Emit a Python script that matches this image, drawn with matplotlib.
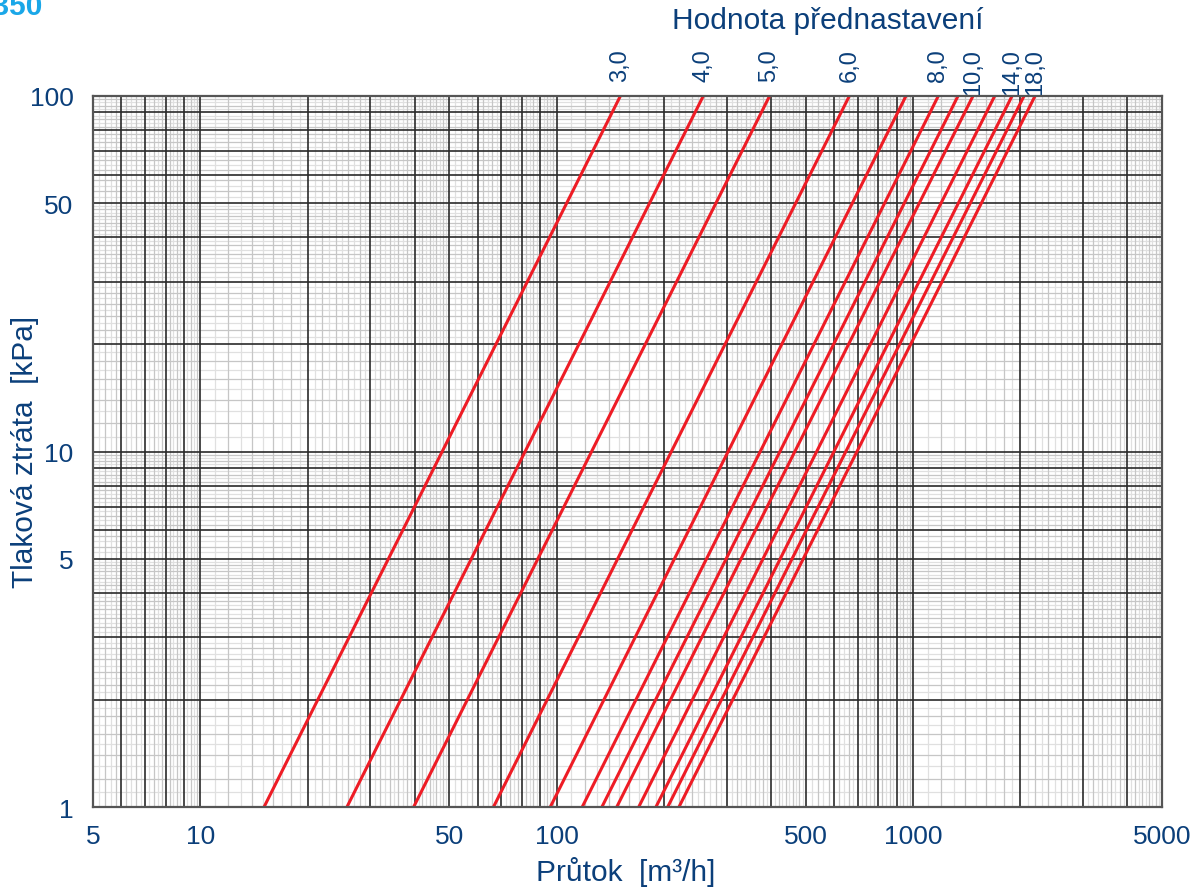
import numpy as np
import matplotlib
matplotlib.use('Agg')
import matplotlib.pyplot as plt
from matplotlib.transforms import blended_transform_factory

plt.rcParams['font.family'] = ['Liberation Sans', 'DejaVu Sans']

# hodnota prednastaveni a prutok [m3/h] pri 1 kPa a 100 kPa
settings = ['3,0', '4,0', '5,0', '6,0', '7,0', '8,0', '9,0', '10,0', '12,0', '14,0', '16,0', '18,0']
shown = ['3,0', '4,0', '5,0', '6,0', '8,0', '10,0', '14,0', '18,0']
q_1kpa = [15.1, 25.8, 39.7, 66.5, 96.0, 118.0, 134.0, 147.5, 170.0, 190.0, 205.0, 220.5]
q_100kpa = [151, 258, 396, 663, 956, 1178, 1338, 1474, 1696, 1897, 2050, 2201]
dp_ends = [1, 100]

x_ticks = [5, 10, 50, 100, 500, 1000, 5000]
y_ticks = [1, 5, 10, 50, 100]

blue = '#0b3f7a'
red = '#ee1c25'

fig = plt.figure(figsize=(11.95, 8.95), dpi=100)
ax = fig.add_axes([93/1195, 1-808/895, (1162-93)/1195, (808-97)/895])
ax.set_xscale('log')
ax.set_yscale('log')
ax.set_xlim(5, 5000)
ax.set_ylim(1, 100)


def grid_vals(lo, hi):
    # mrizka: tmave cary na celych nasobcich, sede jemne deleni
    odd, even, dark = [], [], []
    for d in range(int(np.floor(np.log10(lo))), int(np.ceil(np.log10(hi))) + 1):
        base = 10.0 ** d
        for m in range(1, 10):
            dark.append(m * base)
        for i, m in enumerate(np.arange(1.1, 5.0, 0.1)):
            if abs(m - round(m)) > 1e-6:
                (odd if i % 2 == 0 else even).append(m * base)
        for i, m in enumerate(np.arange(5.2, 10.0, 0.2)):
            if abs(m - round(m)) > 1e-6:
                (odd if i % 2 == 0 else even).append(m * base)
    f = lambda v: [x for x in v if lo <= x <= hi]
    return f(odd), f(even), f(dark)


xo, xe, xd = grid_vals(5, 5000)
yo, ye, yd = grid_vals(1, 100)
ax.vlines(xo, 1, 100, colors='#e0e0e0', lw=0.9, zorder=1)
ax.hlines(yo, 5, 5000, colors='#e0e0e0', lw=0.9, zorder=1)
ax.vlines(xe, 1, 100, colors='#c6c6c6', lw=0.9, zorder=1)
ax.hlines(ye, 5, 5000, colors='#c6c6c6', lw=0.9, zorder=1)
ax.vlines(xd, 1, 100, colors='#2a2a2a', lw=1.2, zorder=2)
ax.hlines(yd, 5, 5000, colors='#2a2a2a', lw=1.2, zorder=2)

for s, q1, q100 in zip(settings, q_1kpa, q_100kpa):
    ax.plot([q1, q100], dp_ends, color=red, lw=2.2, zorder=3, solid_capstyle='butt')

trans = blended_transform_factory(ax.transData, fig.transFigure)
for s, q100 in zip(settings, q_100kpa):
    if s in shown:
        ax.text(q100, 1 - 49/895, s, rotation=90, ha='center', va='top',
                fontsize=17, color=blue, transform=trans)

ax.set_xticks(x_ticks)
ax.set_xticklabels([str(v) for v in x_ticks])
ax.set_yticks(y_ticks)
ax.set_yticklabels([str(v) for v in y_ticks])
ax.minorticks_off()
ax.tick_params(length=0, labelsize=19, labelcolor=blue)
ax.tick_params(axis='y', pad=14)
ax.tick_params(axis='x', pad=12)
for sp in ax.spines.values():
    sp.set_color('#555555')
    sp.set_linewidth(1.6)
    sp.set_zorder(4)

fig.text(626/1195, 1 - 872/895, 'Průtok  [m³/h]', ha='center', va='center',
         fontsize=21.5, color=blue)
fig.text(25/1195, 1 - 452/895, 'Tlaková ztráta  [kPa]', ha='center', va='center',
         rotation=90, fontsize=21.5, color=blue)
fig.text(828/1195, 1 - 21/895, 'Hodnota přednastavení', ha='center', va='center',
         fontsize=21.5, color=blue)
fig.text(42/1195, 1 - 15/895, 'DN 350', ha='right', va='baseline',
         fontsize=21.5, fontweight='bold', color='#1aa7e8')

fig.savefig('out.png', dpi=100)
